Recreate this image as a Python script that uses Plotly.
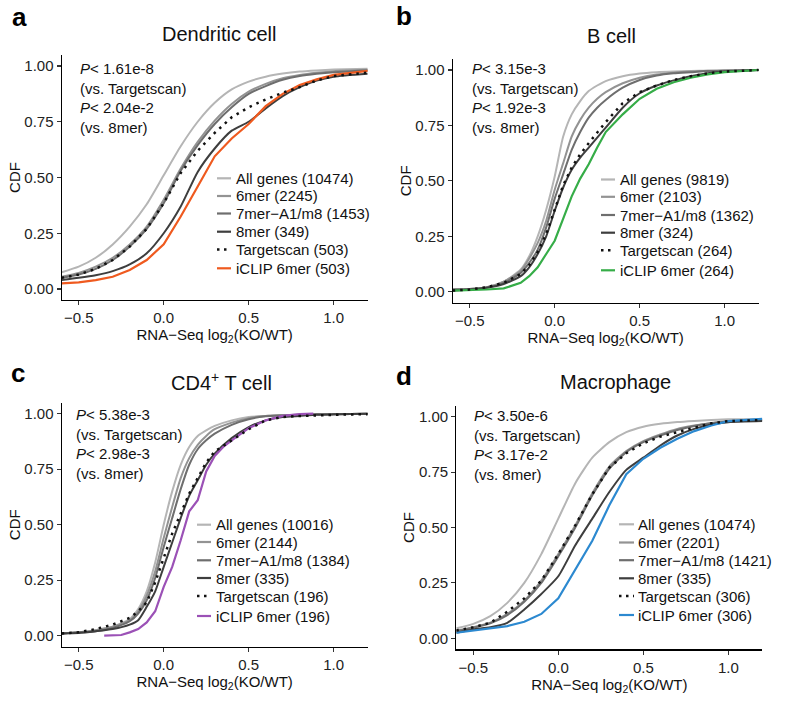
import plotly.graph_objects as go

W, H = 785, 704

# ---------------- data ----------------
SERIES = ["All genes", "6mer", "7mer\u2212A1/m8", "8mer", "Targetscan", "iCLIP 6mer"]

X_TICKS = [-0.5, 0.0, 0.5, 1.0]
Y_TICKS = [0.0, 0.25, 0.5, 0.75, 1.0]

# Panel a : Dendritic cell
A_TITLE = "Dendritic cell"
A_COUNTS = [10474, 2245, 1453, 349, 503, 503]
A_P = ["1.61e-8", "2.04e-2"]
A_X = [-0.6, -0.5, -0.4, -0.3, -0.2, -0.1, 0.0, 0.1, 0.2, 0.3, 0.4, 0.5, 0.6, 0.7, 0.8, 0.9, 1.0, 1.2]
A_ALL = [0.075, 0.10, 0.14, 0.20, 0.28, 0.38, 0.51, 0.64, 0.75, 0.835, 0.895, 0.93, 0.952, 0.966, 0.975, 0.98, 0.984, 0.988]
A_6MER = [0.055, 0.072, 0.10, 0.14, 0.20, 0.28, 0.40, 0.54, 0.66, 0.755, 0.83, 0.885, 0.92, 0.945, 0.96, 0.97, 0.977, 0.983]
A_7MER = [0.05, 0.065, 0.09, 0.13, 0.19, 0.27, 0.385, 0.53, 0.645, 0.74, 0.815, 0.875, 0.91, 0.938, 0.955, 0.965, 0.972, 0.98]
A_8MER = [0.04, 0.05, 0.062, 0.08, 0.11, 0.16, 0.25, 0.37, 0.525, 0.63, 0.71, 0.75, 0.81, 0.865, 0.905, 0.935, 0.952, 0.965]
A_TS = [0.05, 0.065, 0.09, 0.13, 0.19, 0.27, 0.385, 0.52, 0.62, 0.70, 0.77, 0.815, 0.85, 0.88, 0.905, 0.935, 0.955, 0.97]
A_ICLIP_X = A_X
A_ICLIP = [0.025, 0.03, 0.04, 0.055, 0.085, 0.13, 0.2, 0.325, 0.46, 0.595, 0.675, 0.74, 0.82, 0.875, 0.915, 0.94, 0.96, 0.978]

# Panel b : B cell
B_TITLE = "B cell"
B_COUNTS = [9819, 2103, 1362, 324, 264, 264]
B_P = ["3.15e-3", "1.92e-3"]
B_X = [-0.6, -0.5, -0.4, -0.3, -0.2, -0.15, -0.1, -0.05, 0.0, 0.05, 0.1, 0.15, 0.2, 0.25, 0.3, 0.4, 0.5, 0.6, 0.7, 0.8, 0.9, 1.0, 1.2]
B_ALL = [0.01, 0.012, 0.02, 0.045, 0.10, 0.16, 0.25, 0.37, 0.52, 0.70, 0.80, 0.86, 0.905, 0.93, 0.95, 0.972, 0.984, 0.99, 0.993, 0.995, 0.997, 0.998, 1.0]
B_6MER = [0.01, 0.012, 0.02, 0.045, 0.095, 0.15, 0.22, 0.32, 0.46, 0.58, 0.70, 0.775, 0.83, 0.87, 0.90, 0.94, 0.965, 0.98, 0.988, 0.993, 0.996, 0.998, 1.0]
B_7MER = [0.01, 0.012, 0.018, 0.04, 0.085, 0.13, 0.19, 0.29, 0.42, 0.53, 0.64, 0.72, 0.785, 0.83, 0.865, 0.92, 0.955, 0.975, 0.985, 0.99, 0.995, 0.997, 1.0]
B_8MER = [0.005, 0.01, 0.018, 0.035, 0.07, 0.11, 0.17, 0.25, 0.365, 0.47, 0.55, 0.605, 0.65, 0.695, 0.74, 0.83, 0.895, 0.93, 0.953, 0.972, 0.985, 0.993, 1.0]
B_TS = [0.005, 0.01, 0.02, 0.04, 0.08, 0.12, 0.18, 0.26, 0.37, 0.48, 0.56, 0.62, 0.67, 0.72, 0.765, 0.85, 0.90, 0.93, 0.955, 0.972, 0.985, 0.993, 1.0]
B_ICLIP_X = B_X
B_ICLIP = [0.005, 0.007, 0.01, 0.015, 0.04, 0.07, 0.11, 0.17, 0.23, 0.33, 0.43, 0.51, 0.575, 0.65, 0.72, 0.80, 0.87, 0.915, 0.945, 0.965, 0.98, 0.99, 1.0]

# Panel c : CD4+ T cell
C_TITLE = "CD4<sup>+</sup> T cell"
C_COUNTS = [10016, 2144, 1384, 335, 196, 196]
C_P = ["5.38e-3", "2.98e-3"]
C_X = B_X
C_ALL = [0.01, 0.015, 0.025, 0.04, 0.075, 0.12, 0.2, 0.33, 0.5, 0.65, 0.77, 0.85, 0.90, 0.925, 0.945, 0.97, 0.985, 0.99, 0.993, 0.995, 0.997, 0.998, 1.0]
C_6MER = [0.01, 0.015, 0.025, 0.04, 0.07, 0.11, 0.18, 0.29, 0.44, 0.58, 0.71, 0.80, 0.86, 0.9, 0.93, 0.96, 0.98, 0.99, 0.993, 0.995, 0.997, 0.998, 1.0]
C_7MER = [0.01, 0.015, 0.02, 0.035, 0.065, 0.10, 0.16, 0.26, 0.40, 0.53, 0.66, 0.77, 0.84, 0.88, 0.91, 0.95, 0.975, 0.988, 0.992, 0.995, 0.997, 0.998, 1.0]
C_8MER = [0.01, 0.012, 0.02, 0.03, 0.05, 0.07, 0.13, 0.20, 0.31, 0.42, 0.53, 0.63, 0.70, 0.77, 0.82, 0.89, 0.94, 0.97, 0.985, 0.99, 0.995, 0.997, 1.0]
C_TS = [0.01, 0.015, 0.03, 0.05, 0.08, 0.11, 0.15, 0.24, 0.35, 0.46, 0.55, 0.64, 0.71, 0.78, 0.83, 0.88, 0.93, 0.97, 0.985, 0.99, 0.993, 0.995, 0.998]
C_ICLIP_X = [-0.35, -0.25, -0.2, -0.15, -0.1, -0.05, 0.0, 0.05, 0.1, 0.15, 0.2, 0.25, 0.3, 0.35, 0.4, 0.5, 0.6, 0.7, 0.8, 0.88]
C_ICLIP = [0.0, 0.003, 0.015, 0.03, 0.06, 0.11, 0.22, 0.31, 0.43, 0.56, 0.61, 0.74, 0.81, 0.85, 0.88, 0.935, 0.97, 0.99, 0.998, 1.0]

# Panel d : Macrophage
D_TITLE = "Macrophage"
D_COUNTS = [10474, 2201, 1421, 335, 306, 306]
D_P = ["3.50e-6", "3.17e-2"]
D_X = A_X
D_ALL = [0.045, 0.065, 0.10, 0.16, 0.25, 0.38, 0.54, 0.70, 0.815, 0.885, 0.93, 0.955, 0.968, 0.976, 0.981, 0.985, 0.988, 0.99]
D_6MER = [0.035, 0.05, 0.07, 0.11, 0.17, 0.26, 0.38, 0.51, 0.655, 0.775, 0.845, 0.89, 0.92, 0.945, 0.96, 0.972, 0.98, 0.985]
D_7MER = [0.033, 0.048, 0.068, 0.105, 0.165, 0.25, 0.37, 0.50, 0.645, 0.765, 0.84, 0.885, 0.915, 0.94, 0.958, 0.97, 0.978, 0.983]
D_8MER = [0.025, 0.04, 0.05, 0.07, 0.13, 0.20, 0.28, 0.42, 0.54, 0.66, 0.76, 0.815, 0.87, 0.915, 0.945, 0.965, 0.975, 0.98]
D_TS = [0.035, 0.05, 0.07, 0.12, 0.18, 0.26, 0.38, 0.51, 0.65, 0.77, 0.835, 0.88, 0.91, 0.93, 0.95, 0.97, 0.98, 0.985]
D_ICLIP_X = A_X
D_ICLIP = [0.025, 0.035, 0.045, 0.055, 0.075, 0.11, 0.18, 0.31, 0.44, 0.60, 0.74, 0.81, 0.86, 0.90, 0.935, 0.96, 0.98, 0.99]

# ---------------- styling ----------------
FONT = "Liberation Sans, Arial, Helvetica, sans-serif"
GRAY_COLORS = ["#b5b5b5", "#939393", "#6e6e6e", "#3e3e3e"]
TS_COLOR = "#111111"
ICLIP_COLORS = ["#ef5a1f", "#36ad48", "#9b51b6", "#2c89d0"]

panels = [
    dict(letter="a", title=A_TITLE, counts=A_COUNTS, p=A_P, x=A_X,
         gray=[A_ALL, A_6MER, A_7MER, A_8MER], ts=A_TS, ix=A_ICLIP_X, iy=A_ICLIP,
         xd=(61.7, 367.7), yd=(54.85, 300.15), letter_xy=(19, 17), title_xy=(219, 34),
         p_xy=(79, 58.5), leg=(217, 231, 235, [178.3, 196.0, 213.5, 231.7, 249.6, 268.3])),
    dict(letter="b", title=B_TITLE, counts=B_COUNTS, p=B_P, x=B_X,
         gray=[B_ALL, B_6MER, B_7MER, B_8MER], ts=B_TS, ix=B_ICLIP_X, iy=B_ICLIP,
         xd=(452.7, 758.7), yd=(58.9, 302.8), letter_xy=(404, 16), title_xy=(611, 36),
         p_xy=(470.7, 59.5), leg=(601, 615, 619, [179.5, 196.8, 215.0, 232.7, 250.3, 270.3])),
    dict(letter="c", title=C_TITLE, counts=C_COUNTS, p=C_P, x=C_X,
         gray=[C_ALL, C_6MER, C_7MER, C_8MER], ts=C_TS, ix=C_ICLIP_X, iy=C_ICLIP,
         xd=(61.7, 367.7), yd=(402.6, 646.8), letter_xy=(18, 373), title_xy=(221, 381.7),
         p_xy=(75, 404.5), leg=(197, 211, 215, [524.7, 542.0, 560.3, 578.0, 596.0, 616.0])),
    dict(letter="d", title=D_TITLE, counts=D_COUNTS, p=D_P, x=D_X,
         gray=[D_ALL, D_6MER, D_7MER, D_8MER], ts=D_TS, ix=D_ICLIP_X, iy=D_ICLIP,
         xd=(456.3, 762.3), yd=(405.6, 649.4), letter_xy=(404, 376), title_xy=(615.5, 382),
         p_xy=(473.3, 405.5), leg=(619, 634, 637, [524.3, 542.5, 560.2, 578.3, 596.0, 615.0])),
]


def px(xp):
    return xp / W


def py(yp):
    return 1 - yp / H


fig = go.Figure()
annotations = []
shapes = []
layout_axes = {}

for i, pn in enumerate(panels):
    k = "" if i == 0 else str(i + 1)
    xref, yref = "x" + k, "y" + k
    icol = ICLIP_COLORS[i]

    for j in range(4):
        fig.add_trace(go.Scatter(
            x=pn["x"], y=pn["gray"][j], mode="lines", name=SERIES[j],
            line=dict(color=GRAY_COLORS[j], width=2, shape="spline", smoothing=0.6),
            xaxis=xref, yaxis=yref, showlegend=False))
    fig.add_trace(go.Scatter(
        x=pn["ix"], y=pn["iy"], mode="lines", name=SERIES[5],
        line=dict(color=icol, width=2.2),
        xaxis=xref, yaxis=yref, showlegend=False))
    fig.add_trace(go.Scatter(
        x=pn["x"], y=pn["ts"], mode="lines", name=SERIES[4],
        line=dict(color=TS_COLOR, width=2.5, dash="2.5px,5px"),
        xaxis=xref, yaxis=yref, showlegend=False))

    axis_common = dict(showgrid=False, zeroline=False, showline=True, linecolor="black",
                       linewidth=1.2, ticks="outside", ticklen=4, tickwidth=1.1,
                       tickcolor="#333333", tickfont=dict(family=FONT, size=15, color="#222222"),
                       mirror=False)
    layout_axes["xaxis" + k] = dict(
        axis_common, domain=[px(pn["xd"][0]), px(pn["xd"][1])], range=[-0.6, 1.2],
        tickvals=X_TICKS, tickformat=".1f", anchor=yref,
        title=dict(text="RNA\u2212Seq log<sub>2</sub>(KO/WT)", standoff=0,
                   font=dict(family=FONT, size=15, color="#111111")))
    layout_axes["yaxis" + k] = dict(
        axis_common, domain=[py(pn["yd"][1]), py(pn["yd"][0])], range=[-0.05, 1.05],
        tickvals=Y_TICKS, tickformat=".2f", anchor=xref,
        title=dict(text="CDF", standoff=0, font=dict(family=FONT, size=15, color="#111111")))

    # panel letter and title
    annotations.append(dict(text="<b>%s</b>" % pn["letter"], x=px(pn["letter_xy"][0]),
                            y=py(pn["letter_xy"][1]), xref="paper", yref="paper",
                            xanchor="center", yanchor="middle", showarrow=False,
                            font=dict(family=FONT, size=26, color="black")))
    annotations.append(dict(text=pn["title"], x=px(pn["title_xy"][0]), y=py(pn["title_xy"][1]),
                            xref="paper", yref="paper", xanchor="center", yanchor="middle",
                            showarrow=False, font=dict(family=FONT, size=20, color="#111111")))
    # P values
    ptxt = ("<i>P</i>&lt; %s<br>(vs. Targetscan)<br><i>P</i>&lt; %s<br>(vs. 8mer)"
            % (pn["p"][0], pn["p"][1]))
    annotations.append(dict(text=ptxt, x=px(pn["p_xy"][0]), y=py(pn["p_xy"][1]),
                            xref="paper", yref="paper", xanchor="left", yanchor="top",
                            align="left", showarrow=False, borderpad=0,
                            font=dict(family=FONT, size=15, color="#111111")))
    # legend
    sx0, sx1, tx, rows = pn["leg"]
    leg_colors = GRAY_COLORS + [TS_COLOR, icol]
    for j in range(6):
        ry = rows[j]
        line = dict(color=leg_colors[j], width=2.2)
        if j == 4:
            line = dict(color=TS_COLOR, width=2.5, dash="2.5px,4.5px")
        shapes.append(dict(type="line", xref="paper", yref="paper",
                           x0=px(sx0), x1=px(sx1), y0=py(ry), y1=py(ry), line=line))
        annotations.append(dict(text="%s (%d)" % (SERIES[j], pn["counts"][j]),
                                x=px(tx), y=py(ry), xref="paper", yref="paper",
                                xanchor="left", yanchor="middle", showarrow=False,
                                borderpad=0,
                                font=dict(family=FONT, size=15, color="#111111")))

fig.update_layout(
    width=W, height=H, margin=dict(l=0, r=0, t=0, b=0),
    paper_bgcolor="white", plot_bgcolor="white",
    showlegend=False, annotations=annotations, shapes=shapes,
    font=dict(family=FONT, size=15, color="#111111"),
    **layout_axes)

# remove the browser's default 8px page margin so the figure fills the window
fig.write_html("out.html",
               config={"displayModeBar": False, "staticPlot": True},
               post_script="document.body.style.margin='0';document.body.style.overflow='hidden';")
